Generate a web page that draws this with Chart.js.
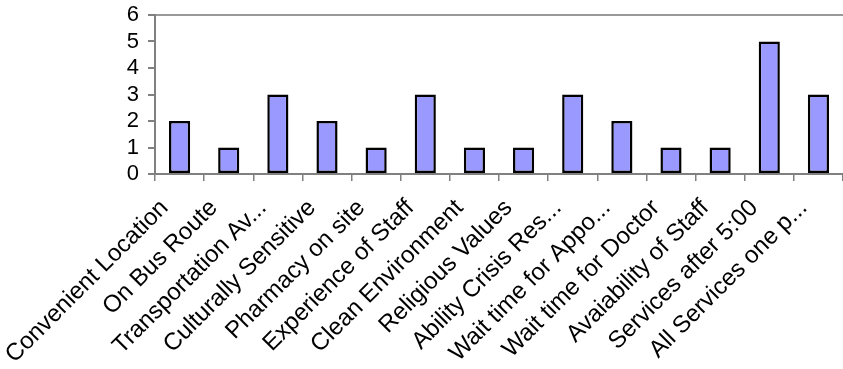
<!DOCTYPE html>
<html>
<head>
<meta charset="utf-8">
<script src="https://cdn.jsdelivr.net/npm/chart.js@4/dist/chart.umd.min.js"></script>
<style>
  html, body { margin: 0; padding: 0; background: #fff; }
  #wrap { width: 843px; height: 369px; position: relative; }
</style>
</head>
<body>
<div id="wrap"><canvas id="chart"></canvas></div>
<script>
// categories + values
const categories = [
    'Convenient Location', 'On Bus Route', 'Transportation Av...', 'Culturally Sensitive',
    'Pharmacy on site', 'Experience of Staff', 'Clean Environment', 'Religious Values',
    'Ability Crisis Res...', 'Wait time for Appo...', 'Wait time for Doctor',
    'Avaiability of Staff', 'Services after 5:00', 'All Services one p...'
];
const counts = [2, 1, 3, 2, 1, 3, 1, 1, 3, 2, 1, 1, 5, 3];
const yTicks = [0, 1, 2, 3, 4, 5, 6];

const axisGrey = '#808080';
const fontFamily = "'Liberation Sans', Arial, sans-serif";

const ctx = document.getElementById('chart').getContext('2d');
const chart = new Chart(ctx, {
    type: 'bar',
    data: {
        labels: categories,
        datasets: [{
            data: counts,
            backgroundColor: '#9999ff',
            borderColor: '#000000',
            borderWidth: 2.5,
            borderSkipped: false,
            barPercentage: 0.43,
            categoryPercentage: 1
        }]
    },
    options: {
        responsive: true,
        maintainAspectRatio: false,
        animation: false,
        layout: { padding: 0 },
        plugins: {
            legend: { display: false },
            tooltip: { enabled: false }
        },
        scales: {
            x: {
                grid: { drawOnChartArea: false, tickColor: axisGrey, tickLength: 7, lineWidth: 1.5 },
                border: { color: axisGrey, width: 2 },
                ticks: {
                    color: '#000',
                    font: { family: fontFamily, size: 24 },
                    autoSkip: false,
                    minRotation: 45,
                    maxRotation: 45,
                    padding: 13,
                    labelOffset: -15
                },
                afterFit: function(scale) {
                    scale.height = 195;
                    scale.paddingLeft = 0;
                    scale.paddingRight = 0;
                }
            },
            y: {
                min: 0,
                max: 6,
                afterBuildTicks: function(scale) {
                    scale.ticks = yTicks.map(v => ({ value: v }));
                },
                grid: {
                    color: c => (c.tick && c.tick.value === 6) ? '#999999' : 'rgba(0,0,0,0)',
                    tickColor: axisGrey,
                    tickLength: 7,
                    lineWidth: 2
                },
                border: { color: axisGrey, width: 2 },
                ticks: {
                    color: '#000',
                    font: { family: fontFamily, size: 22 },
                    autoSkip: false,
                    padding: 9
                },
                afterFit: function(scale) {
                    scale.width = 155;
                    scale.paddingTop = 15;
                    scale.paddingBottom = 0;
                }
            }
        }
    }
});
</script>
</body>
</html>
